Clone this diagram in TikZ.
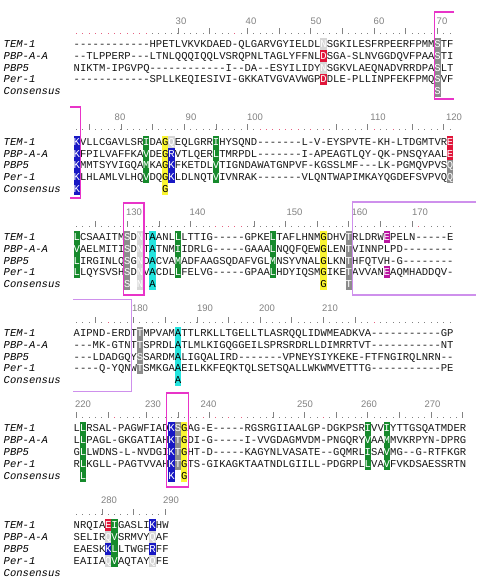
\documentclass[tikz,border=0pt]{standalone}
\usepackage{fontspec}
\setmainfont{Liberation Sans}
\setmonofont{Liberation Mono}
\usepackage{tikz}
\definecolor{hblue}{RGB}{24,24,196}
\definecolor{hgreen}{RGB}{22,138,44}
\definecolor{hyellow}{RGB}{250,245,50}
\definecolor{hred}{RGB}{224,22,58}
\definecolor{hgray}{RGB}{140,140,140}
\definecolor{hlight}{RGB}{214,214,214}
\definecolor{hcyan}{RGB}{36,228,222}
\definecolor{hpurple}{RGB}{186,22,160}
\definecolor{boxpink}{RGB}{232,52,200}
\definecolor{boxviolet}{RGB}{206,144,236}
\definecolor{rulegray}{RGB}{130,130,130}
\definecolor{rulered}{RGB}{230,96,128}
\newcommand{\colw}{6.33}
\newcommand{\seqx}{73.5}
\newcommand{\rowh}{11.9}

\begin{document}
\begin{tikzpicture}[x=1pt,y=-1pt,
  seq/.style={anchor=base west,inner sep=0,text=black!90,font=\ttfamily\fontsize{10.55}{12}\selectfont},
  rowname/.style={anchor=base west,inner sep=0,font=\ttfamily\itshape\fontsize{10.55}{12}\selectfont},
  cell/.style={inner sep=0,minimum width=\colw pt,minimum height=\rowh pt,text height=7pt,text depth=0pt,font=\ttfamily\fontsize{10.55}{12}\selectfont},
  hb/.style={cell,fill=hblue,text=white},
  hn/.style={cell,fill=hgreen,text=white},
  hy/.style={cell,fill=hyellow,text=black},
  hr/.style={cell,fill=hred,text=white},
  hg/.style={cell,fill=hgray,text=white},
  hl/.style={cell,fill=hlight,text=white},
  hc/.style={cell,fill=hcyan,text=black},
  hp/.style={cell,fill=hpurple,text=white},
  rulenum/.style={inner sep=0,text=rulegray,font=\fontsize{9.5}{10}\selectfont},
  motif/.style={draw=boxpink,line width=1.3pt},
  loopbox/.style={draw=boxviolet,line width=1.3pt}]
\useasboundingbox (0,0) rectangle (476,585);
\fill[white] (0,0) rectangle (476,585);

%% block 1 (26-72)
\def\by{43.8}\def\ry{33.5}
\foreach \c in {0,...,59} \fill[rulegray] ({\seqx+(\c+.5)*\colw-.5},\ry) rectangle +(1,1);
\foreach \c in {0,...,11,25} \fill[rulered] ({\seqx+(\c+.5)*\colw-.5},\ry) rectangle +(1,1);
\foreach \c in {16,21,27,32,37,42,47,52,57} \draw[rulegray,line width=.8pt] ({\seqx+(\c+.5)*\colw},{\ry+1}) -- +(0,-6);
\node[rulenum] (n30) at (181,21.7) {30};
\node[rulenum] (n40) at (251,21.7) {40};
\node[rulenum] (n50) at (316,21.7) {50};
\node[rulenum] (n60) at (379,21.7) {60};
\node[rulenum] (n70) at (442,21.7) {70};
\foreach \r/\t in {0/TEM-1,1/PBP-A-A,2/PBP5,3/Per-1,4/Consensus}
  \node[rowname] (a\r) at (3.5,{\by+\r*\rowh+3.5}) {\t};
\node[seq] (a0s) at (\seqx,{\by+3.5}) {------------HPETLVKVKDAED-QLGARVGYIELDL~SGKILESFRPEERFPMM~TF};
\node[seq] (a1s) at (\seqx,{\by+\rowh+3.5}) {--TLPPERP---LTNLQQQIQQLVSRQPNLTAGLYFFNL~SGA-SLNVGGDQVFPAA~TI};
\node[seq] (a2s) at (\seqx,{\by+2*\rowh+3.5}) {NIKTM-IPGVPQ------------I--DA--ESYILIDY~SGKVLAEQNADVRRDPA~LT};
\node[seq] (a3s) at (\seqx,{\by+3*\rowh+3.5}) {------------SPLLKEQIESIVI-GKKATVGVAVWGP~DLE-PLLINPFEKFPMQ~VF};
\foreach \c/\r/\k/\l in {39/0/hl/N,39/1/hr/D,39/2/hl/N,39/3/hr/D,
  57/0/hg/S,57/1/hg/S,57/2/hg/S,57/3/hg/S,57/4/hg/S}
  \node[\k] (a-\c-\r) at ({\seqx+(\c+.5)*\colw},{\by+\r*\rowh}) {\l};
\draw[motif] (454,12) -- (434.3,12) -- (434.3,99) -- (454,99);

%% block 2 (73-121)
\def\by{141.7}\def\ry{129}
\foreach \c in {0,...,59} \fill[rulegray] ({\seqx+(\c+.5)*\colw-.5},\ry) rectangle +(1,1);
\foreach \c in {29,...,35,37,39,47,50} \fill[rulered] ({\seqx+(\c+.5)*\colw-.5},\ry) rectangle +(1,1);
\foreach \c in {2,7,12,17,22,27,41,46,53,58} \draw[rulegray,line width=.8pt] ({\seqx+(\c+.5)*\colw},{\ry+1}) -- +(0,-6);
\node[rulenum] (n80) at (120,117) {80};
\node[rulenum] (n90) at (191,117) {90};
\node[rulenum] (n100) at (255,117) {100};
\node[rulenum] (n110) at (378,117) {110};
\node[rulenum] (n120) at (454,117) {120};
\foreach \r/\t in {0/TEM-1,1/PBP-A-A,2/PBP5,3/Per-1,4/Consensus}
  \node[rowname] (b\r) at (3.5,{\by+\r*\rowh+3.5}) {\t};
\node[seq] (b0s) at (\seqx,{\by+3.5}) {~VLLCGAVLSR~DA~~EQLGRR~HYSQND-------L-V-EYSPVTE-KH-LTDGMTVR~};
\node[seq] (b1s) at (\seqx,{\by+\rowh+3.5}) {~FPILVAFFKA~DE~~VTLQER~TMRPDL-------I-APEAGTLQY-QK-PNSQYAAL~};
\node[seq] (b2s) at (\seqx,{\by+2*\rowh+3.5}) {~MMTSYVIGQA~KA~~FKETDL~TIGNDAWATGNPVF-KGSSLMF---LK-PGMQVPVS~};
\node[seq] (b3s) at (\seqx,{\by+3*\rowh+3.5}) {~LHLAMLVLHQ~DQ~~LDLNQT~IVNRAK-------VLQNTWAPIMKAYQGDEFSVPVQ~};
\foreach \c/\r/\k/\l in {0/0/hb/K,0/1/hb/K,0/2/hb/K,0/3/hb/K,0/4/hb/K,
  11/0/hn/I,11/1/hn/V,11/2/hn/M,11/3/hn/V,
  14/0/hy/G,14/1/hy/G,14/2/hy/G,14/3/hy/G,14/4/hy/G,
  15/0/hl/Q,15/1/hb/R,15/2/hb/K,15/3/hb/K,
  22/0/hn/I,22/1/hn/L,22/2/hn/V,22/3/hn/V,
  59/0/hr/E,59/1/hr/E,59/2/hg/Q,59/3/hg/Q}
  \node[\k] (b-\c-\r) at ({\seqx+(\c+.5)*\colw},{\by+\r*\rowh}) {\l};
\draw[motif] (70,107) -- (80.2,107) -- (80.2,198) -- (70,198);

%% block 3 (122-171)
\def\by{236.7}\def\ry{226}
\foreach \c in {0,...,59} \fill[rulegray] ({\seqx+(\c+.5)*\colw-.5},\ry) rectangle +(1,1);
\foreach \c in {22,...,26,54,...,58} \fill[rulered] ({\seqx+(\c+.5)*\colw-.5},\ry) rectangle +(1,1);
\foreach \c in {3,8,13,18,28,33,38,43,48,53} \draw[rulegray,line width=.8pt] ({\seqx+(\c+.5)*\colw},{\ry+1}) -- +(0,-6);
\node[rulenum] (n130) at (134,212.5) {130};
\node[rulenum] (n140) at (197.5,212.5) {140};
\node[rulenum] (n150) at (294.5,212.5) {150};
\node[rulenum] (n160) at (359.5,212.5) {160};
\node[rulenum] (n170) at (420,212.5) {170};
\foreach \r/\t in {0/TEM-1,1/PBP-A-A,2/PBP5,3/Per-1,4/Consensus}
  \node[rowname] (c\r) at (3.5,{\by+\r*\rowh+3.5}) {\t};
\node[seq] (c0s) at (\seqx,{\by+3.5}) {~CSAAITM~D~T~ANL~LTTIG-----GPKE~TAFLHNM~DHV~RLDRW~PELN-----E};
\node[seq] (c1s) at (\seqx,{\by+\rowh+3.5}) {~AELMITI~D~T~TNM~IDRLG-----GAAA~NQQFQEW~LEN~VINNPLPD--------};
\node[seq] (c2s) at (\seqx,{\by+2*\rowh+3.5}) {~IRGINLQ~G~D~CVA~ADFAAGSQDAFVGL~NSYVNAL~LKN~HFQTVH-G--------};
\node[seq] (c3s) at (\seqx,{\by+3*\rowh+3.5}) {~LQYSVSH~D~V~CDL~FELVG-----GPAA~HDYIQSM~IKE~AVVAN~AQMHADDQV-};
\foreach \c/\r/\k/\l in {0/0/hn/L,0/1/hn/V,0/2/hn/L,0/3/hn/L,
  8/0/hg/S,8/1/hg/S,8/2/hg/S,8/3/hg/S,8/4/hg/S,
  10/0/hl/N,10/1/hl/N,10/2/hl/N,10/3/hl/N,10/4/hl/N,
  12/0/hc/A,12/1/hc/A,12/2/hc/A,12/3/hc/A,12/4/hc/A,
  16/0/hn/L,16/1/hn/I,16/2/hn/M,16/3/hn/L,
  31/0/hn/L,31/1/hn/L,31/2/hn/M,31/3/hn/L,
  39/0/hy/G,39/1/hy/G,39/2/hy/G,39/3/hy/G,39/4/hy/G,
  43/0/hg/T,43/1/hg/T,43/2/hg/T,43/3/hg/T,43/4/hg/T,
  49/0/hp/E,49/3/hp/E}
  \node[\k] (c-\c-\r) at ({\seqx+(\c+.5)*\colw},{\by+\r*\rowh}) {\l};
\draw[motif] (123.3,203) rectangle (144,295);
\draw[loopbox] (476,202) -- (352.5,202) -- (352.5,295) -- (476,295);

%% block 4 (172-219)
\def\by{332.7}\def\ry{321.5}
\foreach \c in {0,...,59} \fill[rulegray] ({\seqx+(\c+.5)*\colw-.5},\ry) rectangle +(1,1);
\foreach \c in {5,47,...,57} \fill[rulered] ({\seqx+(\c+.5)*\colw-.5},\ry) rectangle +(1,1);
\foreach \c in {3,9,14,19,24,29,34,39,44} \draw[rulegray,line width=.8pt] ({\seqx+(\c+.5)*\colw},{\ry+1}) -- +(0,-6);
\node[rulenum] (n180) at (140,308) {180};
\node[rulenum] (n190) at (205,308) {190};
\node[rulenum] (n200) at (267,308) {200};
\node[rulenum] (n210) at (330,308) {210};
\foreach \r/\t in {0/TEM-1,1/PBP-A-A,2/PBP5,3/Per-1,4/Consensus}
  \node[rowname] (d\r) at (3.5,{\by+\r*\rowh+3.5}) {\t};
\node[seq] (d0s) at (\seqx,{\by+3.5}) {AIPND-ERDT~MPVAM~TTLRKLLTGELLTLASRQQLIDWMEADKVA-----------GP};
\node[seq] (d1s) at (\seqx,{\by+\rowh+3.5}) {---MK-GTNT~SPRDL~TLMLKIGQGGEILSPRSRDRLLDIMRRTVT-----------NT};
\node[seq] (d2s) at (\seqx,{\by+2*\rowh+3.5}) {---LDADGQY~SARDM~LIGQALIRD-------VPNEYSIYKEKE-FTFNGIRQLNRN--};
\node[seq] (d3s) at (\seqx,{\by+3*\rowh+3.5}) {----Q-YQNW~SMKGA~EILKKFEQKTQLSETSQALLWKWMVETTTG-----------PE};
\foreach \c/\r/\k/\l in {10/0/hg/T,10/1/hg/T,10/2/hg/S,10/3/hg/T,
  16/0/hc/A,16/1/hc/A,16/2/hc/A,16/3/hc/A,16/4/hc/A}
  \node[\k] (d-\c-\r) at ({\seqx+(\c+.5)*\colw},{\by+\r*\rowh}) {\l};
\draw[loopbox] (73,299.3) -- (131.5,299.3) -- (131.5,391.7) -- (73,391.7);

%% block 5 (220-275)
\def\by{428.3}\def\ry{416.5}
\foreach \c in {0,...,61} \fill[rulegray] ({\seqx+(\c+.5)*\colw-.5},\ry) rectangle +(1,1);
\foreach \c in {6,20,22,...,26,39} \fill[rulered] ({\seqx+(\c+.5)*\colw-.5},\ry) rectangle +(1,1);
\foreach \c in {0,5,11,16,21,31,36,41,46,51,56,61} \draw[rulegray,line width=.8pt] ({\seqx+(\c+.5)*\colw},{\ry+1}) -- +(0,-6);
\node[rulenum] (n220) at (83,404) {220};
\node[rulenum] (n230) at (153,404) {230};
\node[rulenum] (n240) at (208.5,404) {240};
\node[rulenum] (n250) at (305,404) {250};
\node[rulenum] (n260) at (369,404) {260};
\node[rulenum] (n270) at (432.5,404) {270};
\foreach \r/\t in {0/TEM-1,1/PBP-A-A,2/PBP5,3/Per-1,4/Consensus}
  \node[rowname] (e\r) at (3.5,{\by+\r*\rowh+3.5}) {\t};
\node[seq] (e0s) at (\seqx,{\by+3.5}) {L~RSAL-PAGWFIAD~~~AG-E-----RGSRGIIAALGP-DGKPSR~VV~YTTGSQATMDER};
\node[seq] (e1s) at (\seqx,{\by+\rowh+3.5}) {L~PAGL-GKGATIAH~~~DI-G-----I-VVGDAGMVDM-PNGQRY~AA~MVKRPYN-DPRG};
\node[seq] (e2s) at (\seqx,{\by+2*\rowh+3.5}) {G~LWDNS-L-NVDGI~~~HT-D-----KAGYNLVASATE--GQMRL~SA~MG--G-RTFKGR};
\node[seq] (e3s) at (\seqx,{\by+3*\rowh+3.5}) {R~KGLL-PAGTVVAH~~~TS-GIKAGKTAATNDLGIILL-PDGRPL~VA~FVKDSAESSRTN};
\foreach \c/\r/\k/\l in {1/0/hn/L,1/1/hn/L,1/2/hn/L,1/3/hn/L,1/4/hn/L,
  15/0/hb/K,15/1/hb/K,15/2/hb/K,15/3/hb/K,15/4/hb/K,
  16/0/hg/S,16/1/hg/T,16/2/hg/T,16/3/hg/T,
  17/0/hy/G,17/1/hy/G,17/2/hy/G,17/3/hy/G,17/4/hy/G,
  46/0/hn/I,46/1/hn/V,46/2/hn/I,46/3/hn/L,
  49/0/hn/I,49/1/hn/M,49/2/hn/V,49/3/hn/V}
  \node[\k] (e-\c-\r) at ({\seqx+(\c+.5)*\colw},{\by+\r*\rowh}) {\l};
\draw[motif] (166.7,393) rectangle (188.3,487);

%% block 6 (276-290)
\def\by{525}\def\ry{513.5}
\foreach \c in {0,...,14} \fill[rulegray] ({\seqx+(\c+.5)*\colw-.5},\ry) rectangle +(1,1);
\foreach \c in {4,9,14} \draw[rulegray,line width=.8pt] ({\seqx+(\c+.5)*\colw},{\ry+1}) -- +(0,-6);
\node[rulenum] (n280) at (109,500) {280};
\node[rulenum] (n290) at (171,500) {290};
\foreach \r/\t in {0/TEM-1,1/PBP-A-A,2/PBP5,3/Per-1,4/Consensus}
  \node[rowname] (f\r) at (3.5,{\by+\r*\rowh+3.5}) {\t};
\node[seq] (f0s) at (\seqx,{\by+3.5}) {NRQIA~~GASLI~HW};
\node[seq] (f1s) at (\seqx,{\by+\rowh+3.5}) {SELIR~~SRMVY~AF};
\node[seq] (f2s) at (\seqx,{\by+2*\rowh+3.5}) {EAESK~~LTWGF~FF};
\node[seq] (f3s) at (\seqx,{\by+3*\rowh+3.5}) {EAIIA~~AQTAY~FE};
\foreach \c/\r/\k/\l in {5/0/hr/E,5/1/hl/Q,5/2/hb/K,5/3/hl/Q,
  6/0/hn/I,6/1/hn/V,6/2/hn/L,6/3/hn/V,
  12/0/hb/K,12/1/hl/Q,12/2/hb/R,12/3/hl/Q}
  \node[\k] (f-\c-\r) at ({\seqx+(\c+.5)*\colw},{\by+\r*\rowh}) {\l};
\end{tikzpicture}
\end{document}
